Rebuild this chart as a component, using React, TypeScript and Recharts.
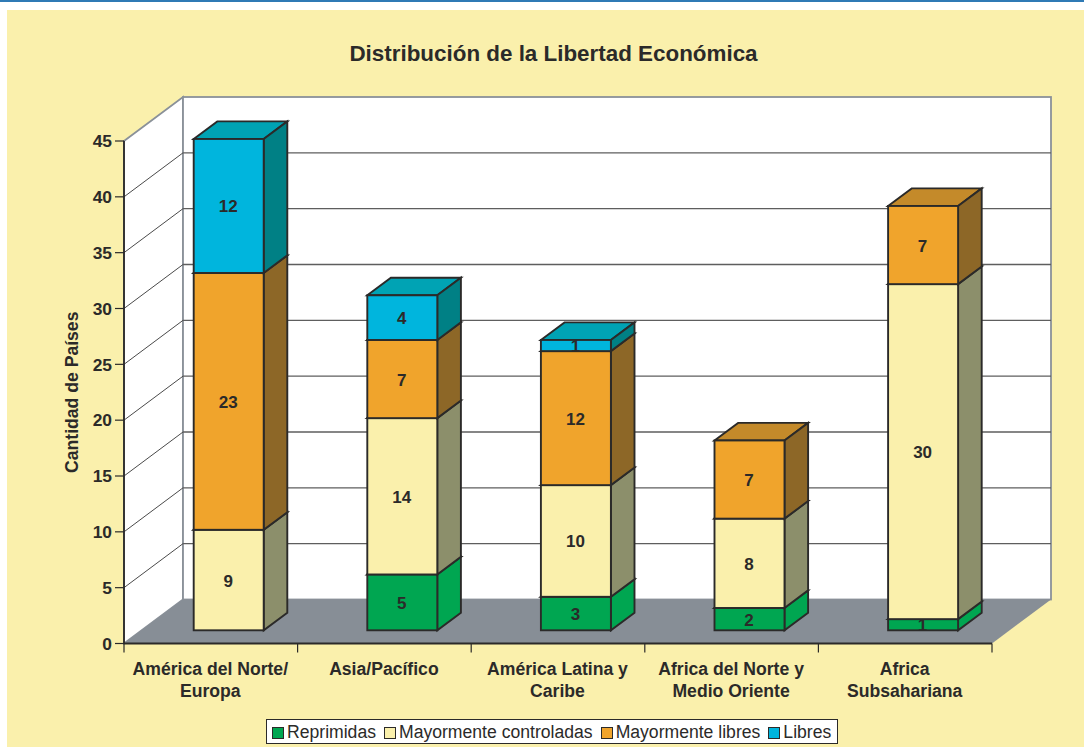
import { Bar, BarChart, CartesianGrid, LabelList, Legend, XAxis, YAxis } from 'recharts';

const categories = [
  ['América del Norte/', 'Europa'],
  ['Asia/Pacífico'],
  ['América Latina y', 'Caribe'],
  ['Africa del Norte y', 'Medio Oriente'],
  ['Africa', 'Subsahariana'],
];
const reprimidas = [0, 5, 3, 2, 1];
const controladas = [9, 14, 10, 8, 30];
const mayLibres = [23, 7, 12, 7, 7];
const libres = [12, 4, 1, 0, 0];
const yTicks = [0, 5, 10, 15, 20, 25, 30, 35, 40, 45];

const seriesInfo = [
  { key: 'reprimidas', name: 'Reprimidas', values: reprimidas, front: '#00a651', side: '#00a651', top: '#008a45' },
  { key: 'controladas', name: 'Mayormente controladas', values: controladas, front: '#faf0ac', side: '#8c8f6b', top: '#c8c08a' },
  { key: 'mayLibres', name: 'Mayormente libres', values: mayLibres, front: '#f0a42c', side: '#8d6727', top: '#c48a2a' },
  { key: 'libres', name: 'Libres', values: libres, front: '#00b5dd', side: '#008085', top: '#00a3b4' },
];

const chartData = categories.map((lines, i) => ({
  name: lines.join(' '),
  lines,
  reprimidas: reprimidas[i],
  controladas: controladas[i],
  mayLibres: mayLibres[i],
  libres: libres[i],
}));

const WIDTH = 1084;
const HEIGHT = 747;
const INK = '#2b2a29';
const WALL_EDGE = '#8a9199';
const FLOOR = '#878e96';

// oblique projection: how far the back wall sits from the front plane
const DEPTH_X = 59;
const DEPTH_Y = 44;
// the columns stand between 30% and 70% of the floor depth
const BAR_X = DEPTH_X * 0.3;
const BAR_Y = DEPTH_Y * 0.3;
const COL_X = DEPTH_X * 0.4;
const COL_Y = DEPTH_Y * 0.4;

const FONT = '"Liberation Sans", Arial, sans-serif';

const pts = (list: number[][]) => list.map((p) => p.join(',')).join(' ');

// left wall, back wall and floor; hung on the baseline of the grid
const wallsLine = (props: any) => {
  const { x1, x2, y1, offset, index } = props;
  const bottom = offset.top + offset.height;
  if (Math.abs(y1 - bottom) > 1) return <g key={index} />;
  const top = offset.top;
  return (
    <g key="walls">
      <polygon
        points={pts([[x1, top], [x1 + DEPTH_X, top - DEPTH_Y], [x1 + DEPTH_X, bottom - DEPTH_Y], [x1, bottom]])}
        fill="#fff"
        stroke={WALL_EDGE}
        strokeWidth={1.8}
      />
      <rect
        x={x1 + DEPTH_X}
        y={top - DEPTH_Y}
        width={x2 - x1}
        height={bottom - top}
        fill="#fff"
        stroke={WALL_EDGE}
        strokeWidth={1.8}
      />
      <polygon
        points={pts([[x1, bottom], [x1 + DEPTH_X, bottom - DEPTH_Y], [x2 + DEPTH_X, bottom - DEPTH_Y], [x2, bottom]])}
        fill={FLOOR}
      />
    </g>
  );
};

// each grid value runs up the left wall, then along the back wall
const gridLine = (props: any) => {
  const { x1, x2, y1, offset, index } = props;
  const bottom = offset.top + offset.height;
  if (Math.abs(y1 - bottom) < 1 || Math.abs(y1 - offset.top) < 1) return <g key={index} />;
  return (
    <g key={index} fill="none">
      <line x1={x1} y1={y1} x2={x1 + DEPTH_X} y2={y1 - DEPTH_Y} stroke="#4a4a4a" strokeWidth={1} />
      <line x1={x1 + DEPTH_X} y1={y1 - DEPTH_Y} x2={x2 + DEPTH_X} y2={y1 - DEPTH_Y} stroke="#5e5e5e" strokeWidth={1.4} />
    </g>
  );
};

const ColumnShape = (props: any) => {
  const { x, y, width, height, front, side, top } = props;
  if (!height || height <= 0) return <g />;
  const l = x + BAR_X;
  const t = y - BAR_Y;
  const r = l + width;
  const b = t + height;
  return (
    <g stroke={INK} strokeWidth={1.9} strokeLinejoin="miter">
      <polygon points={pts([[l, t], [l + COL_X, t - COL_Y], [r + COL_X, t - COL_Y], [r, t]])} fill={top} />
      <polygon points={pts([[r, t], [r + COL_X, t - COL_Y], [r + COL_X, b - COL_Y], [r, b]])} fill={side} />
      <rect x={l} y={t} width={width} height={height} fill={front} />
    </g>
  );
};

const ValueLabel = (props: any) => {
  const { x, y, width, height, value } = props;
  if (!value) return null;
  return (
    <text
      x={x + width / 2 + BAR_X - 0.5}
      y={y + height / 2 - BAR_Y}
      dy={6.5}
      textAnchor="middle"
      fontFamily={FONT}
      fontWeight="bold"
      fontSize={17}
      fill={INK}
    >
      {value}
    </text>
  );
};

// category labels sit mid-band while the tick marks fall on the band edges
const CategoryTick = (props: any) => {
  const { x, y, payload, index, visibleTicksCount, band } = props;
  const lines = categories[index] ?? [payload.value];
  const last = index === (visibleTicksCount ?? categories.length) - 1;
  return (
    <g>
      <line x1={x - band / 2} y1={y - 8} x2={x - band / 2} y2={y + 1} stroke={INK} strokeWidth={1.2} />
      {last && <line x1={x + band / 2} y1={y - 8} x2={x + band / 2} y2={y + 1} stroke={INK} strokeWidth={1.2} />}
      <text textAnchor="middle" fontFamily={FONT} fontWeight="bold" fontSize={17.6} fill={INK}>
        {lines.map((line: string, i: number) => (
          <tspan key={line} x={x - 0.5} y={y + 23 + i * 22}>
            {line}
          </tspan>
        ))}
      </text>
    </g>
  );
};

const LegendBox = () => (
  <div
    style={{
      display: 'flex',
      alignItems: 'center',
      boxSizing: 'border-box',
      width: 572,
      height: 25,
      padding: '2px 5px 0',
      background: '#fff',
      border: `1.5px solid ${INK}`,
      fontFamily: FONT,
      fontSize: 17.6,
      color: INK,
      whiteSpace: 'nowrap',
    }}
  >
    {seriesInfo.map((s) => (
      <span key={s.key} style={{ display: 'inline-flex', alignItems: 'center', marginRight: 8 }}>
        <span
          style={{
            display: 'inline-block',
            boxSizing: 'border-box',
            width: 12,
            height: 12,
            marginRight: 3,
            background: s.front,
            border: `1.5px solid ${INK}`,
          }}
        />
        {s.name}
      </span>
    ))}
  </div>
);

export default function App() {
  const margin = { top: 141, right: 92, bottom: 43.5, left: 64 };
  const band = (WIDTH - margin.left - 60 - margin.right) / categories.length;
  return (
    <div style={{ position: 'absolute', left: 0, top: 0, width: WIDTH, height: HEIGHT, background: '#fff', overflow: 'hidden' }}>
      <div style={{ position: 'absolute', left: 0, top: 0, width: WIDTH, height: 2, background: '#2f7ab5' }} />
      <div style={{ position: 'absolute', left: 7, top: 10, width: WIDTH - 7, height: HEIGHT - 10, background: '#faf0ac' }} />
      <div
        style={{
          position: 'absolute',
          left: 23,
          right: 0,
          top: 41,
          textAlign: 'center',
          fontFamily: FONT,
          fontWeight: 'bold',
          fontSize: 22.4,
          color: INK,
        }}
      >
        Distribución de la Libertad Económica
      </div>
      <BarChart
        width={WIDTH}
        height={HEIGHT}
        data={chartData}
        margin={margin}
        barSize={70}
        style={{ position: 'absolute', left: 0, top: 0 }}
      >
        <CartesianGrid vertical={false} horizontal={wallsLine} horizontalValues={yTicks} />
        <CartesianGrid vertical={false} horizontal={gridLine} horizontalValues={yTicks} />
        <XAxis
          dataKey="name"
          height={60}
          interval={0}
          tickLine={false}
          axisLine={{ stroke: INK, strokeWidth: 1.8 }}
          tick={(p: any) => <CategoryTick {...p} band={band} />}
        />
        <YAxis
          width={60}
          domain={[0, 45]}
          ticks={yTicks}
          interval={0}
          tickSize={9}
          tickMargin={3}
          axisLine={{ stroke: INK, strokeWidth: 1.8 }}
          tickLine={{ stroke: INK, strokeWidth: 1.2 }}
          tick={{ fontFamily: FONT, fontWeight: 'bold', fontSize: 17.4, fill: INK }}
          label={{
            value: 'Cantidad de Países',
            angle: -90,
            position: 'left',
            offset: -8,
            dy: 0,
            style: { fontFamily: FONT, fontWeight: 'bold', fontSize: 17.6, fill: INK, textAnchor: 'middle' },
          }}
        />
        <Legend
          layout="horizontal"
          verticalAlign="middle"
          align="center"
          content={<LegendBox />}
          wrapperStyle={{ left: 266, top: 719, width: 572, height: 25 }}
        />
        {seriesInfo.map((s) => (
          <Bar
            key={s.key}
            dataKey={s.key}
            name={s.name}
            stackId="total"
            fill={s.front}
            isAnimationActive={false}
            shape={(p: any) => <ColumnShape {...p} front={s.front} side={s.side} top={s.top} />}
          >
            <LabelList dataKey={s.key} content={ValueLabel} />
          </Bar>
        ))}
      </BarChart>
    </div>
  );
}
